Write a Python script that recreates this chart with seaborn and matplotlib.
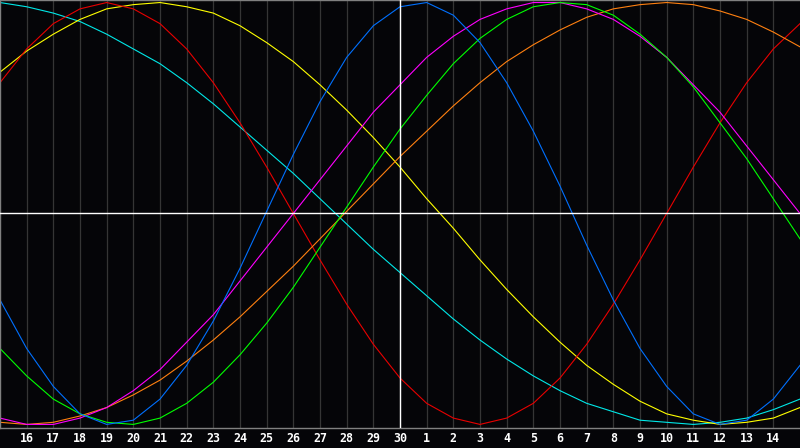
#Biorhythm chart recreation
import pandas as pd
import matplotlib
matplotlib.use("Agg")
import matplotlib.pyplot as plt
import seaborn as sns

# Days shown on the chart (day 15 sits on both edges, labels only 16..14)
days = [15, 16, 17, 18, 19, 20, 21, 22, 23, 24, 25, 26, 27, 28, 29, 30,
        1, 2, 3, 4, 5, 6, 7, 8, 9, 10, 11, 12, 13, 14, 15]
today = 30

# Curve values, one per day (-1 .. 1)
red = [0.62, 0.78, 0.90, 0.97, 1.00, 0.97, 0.90, 0.78, 0.62, 0.43, 0.22, 0.00, -0.22, -0.43, -0.62, -0.78,
       -0.90, -0.97, -1.00, -0.97, -0.90, -0.78, -0.62, -0.43, -0.22, 0.00, 0.22, 0.43, 0.62, 0.78, 0.90]
blue = [-0.41, -0.64, -0.82, -0.95, -1.00, -0.98, -0.88, -0.72, -0.51, -0.26, 0.01, 0.28, 0.53, 0.74, 0.89, 0.98,
        1.00, 0.94, 0.81, 0.62, 0.39, 0.13, -0.15, -0.41, -0.64, -0.82, -0.95, -1.00, -0.98, -0.88, -0.72]
green = [-0.64, -0.77, -0.88, -0.95, -0.99, -1.00, -0.97, -0.90, -0.80, -0.67, -0.52, -0.35, -0.16, 0.03, 0.22, 0.40,
         0.56, 0.71, 0.83, 0.92, 0.98, 1.00, 0.99, 0.94, 0.85, 0.74, 0.60, 0.43, 0.26, 0.07, -0.12]
magenta = [-0.97, -1.00, -1.00, -0.97, -0.92, -0.84, -0.74, -0.61, -0.48, -0.32, -0.16, 0.00, 0.16, 0.32, 0.48, 0.61,
           0.74, 0.84, 0.92, 0.97, 1.00, 1.00, 0.97, 0.92, 0.84, 0.74, 0.61, 0.48, 0.32, 0.16, 0.00]
orange = [-0.99, -1.00, -0.99, -0.96, -0.92, -0.86, -0.79, -0.70, -0.60, -0.49, -0.37, -0.25, -0.12, 0.01, 0.14, 0.27,
          0.39, 0.51, 0.62, 0.72, 0.80, 0.87, 0.93, 0.97, 0.99, 1.00, 0.99, 0.96, 0.92, 0.86, 0.79]
cyan = [1.00, 0.98, 0.95, 0.91, 0.85, 0.78, 0.71, 0.62, 0.52, 0.41, 0.30, 0.19, 0.07, -0.05, -0.17, -0.28,
        -0.39, -0.50, -0.60, -0.69, -0.77, -0.84, -0.90, -0.94, -0.98, -0.99, -1.00, -0.99, -0.97, -0.93, -0.88]
yellow = [0.67, 0.77, 0.85, 0.92, 0.97, 0.99, 1.00, 0.98, 0.95, 0.89, 0.81, 0.72, 0.61, 0.49, 0.36, 0.22,
          0.07, -0.07, -0.22, -0.36, -0.49, -0.61, -0.72, -0.81, -0.89, -0.95, -0.98, -1.00, -0.99, -0.97, -0.92]

series = {"cyan": cyan, "yellow": yellow, "red": red, "orange": orange,
          "magenta": magenta, "green": green, "blue": blue}
colors = {"cyan": "#00e8e8", "yellow": "#ffff00", "red": "#e80000", "orange": "#ff8010",
          "magenta": "#ff00ff", "green": "#00ff00", "blue": "#0070ff"}

# Long format table for seaborn
pos = list(range(len(days)))
rows = []
for name, vals in series.items():
    for p, v in zip(pos, vals):
        rows.append({"pos": p, "value": v, "curve": name})
df = pd.DataFrame(rows)

bg = "#050508"
fig = plt.figure(figsize=(8, 4.48), dpi=100, facecolor=bg)
ax = fig.add_axes([0, 20 / 448, 1, 428 / 448])
ax.set_facecolor(bg)

# Day grid lines
label_pos = pos[1:-1]
for p in label_pos:
    ax.axvline(p, color="#353535", lw=0.9, zorder=0)

sns.lineplot(data=df, x="pos", y="value", hue="curve", palette=colors,
             linewidth=0.8, legend=False, ax=ax, zorder=2)

# Today marker and zero line
today_pos = days.index(today)
ax.axvline(today_pos, color="white", lw=1.0, zorder=3)
ax.axhline(0, color="white", lw=1.0, zorder=3)

ax.set_xlim(0, len(days) - 1)
ax.set_ylim(-1.017, 1.012)
ax.set_xticks(label_pos)
ax.set_xticklabels([str(d) for d in days[1:-1]], color="white", fontsize=8.4,
                   fontweight="bold", family="DejaVu Sans Mono")
ax.tick_params(axis="x", length=0, pad=3)
ax.set_yticks([])
ax.set_xlabel("")
ax.set_ylabel("")
for side in ["left", "bottom", "top"]:
    ax.spines[side].set_color("#808080")
    ax.spines[side].set_linewidth(1.0)
ax.spines["right"].set_visible(False)

fig.savefig("out.png", dpi=100, facecolor=bg)
